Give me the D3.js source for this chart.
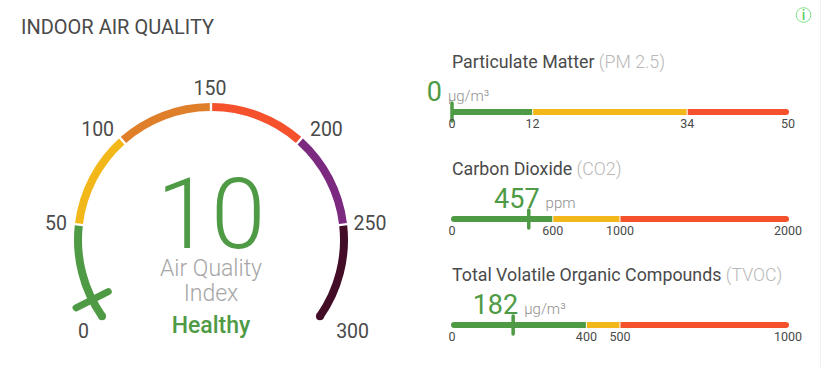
<!DOCTYPE html>
<html><head><meta charset="utf-8">
<script src="https://cdnjs.cloudflare.com/ajax/libs/d3/7.8.5/d3.min.js"></script>
<style>html,body{margin:0;padding:0;background:#fff;overflow:hidden}svg{display:block}text{font-family:Roboto,sans-serif}</style>
</head><body><svg id="c" width="821" height="367"></svg>
<script>
const aqiTicks = [0, 50, 100, 150, 200, 250, 300];
const aqiColors = ["#4f9a45", "#f2b81a", "#e07f2a", "#f4512c", "#7b2a80", "#430d28"];
const aqiValue = 10;
const aqiStatus = "Healthy";

const pmStops = [0, 12, 35, 50];
const pmLabels = ["0", "12", "34", "50"];
const pmValue = 0;
const co2Stops = [0, 600, 1000, 2000];
const co2Labels = ["0", "600", "1000", "2000"];
const co2Value = 457;
const tvocStops = [0, 400, 500, 1000];
const tvocLabels = ["0", "400", "500", "1000"];
const tvocValue = 182;
const barColors = ["#4f9a45", "#f2b81a", "#f4512c"];

const GREEN = "#4f9a45", DARK = "#4a4a4a", GREY = "#a6a6a6";
const svg = d3.select("#c");
svg.append("rect").attr("x",820).attr("y",0).attr("width",1).attr("height",367).attr("fill","#f0f0f0");
svg.append("text").attr("x",21).attr("y",34).attr("font-size",20).attr("fill",DARK).text("INDOOR AIR QUALITY");

// info icon
const info = svg.append("g").attr("transform","translate(803.5,15)");
info.append("circle").attr("r",7.3).attr("fill","none").attr("stroke","#7fe08a").attr("stroke-width",1);
info.append("text").attr("text-anchor","middle").attr("y",5).attr("font-size",14).attr("font-weight",500).attr("fill","#5fcf6c").text("i");

// ---- gauge
const cx = 211, cy = 240, rMid = 133, arcW = 8;
const deg = Math.PI / 180;
const angle = d3.scaleLinear().domain([0, 300]).range([-125 * deg, 125 * deg]);
const gauge = svg.append("g").attr("transform", `translate(${cx},${cy})`);
const arc = d3.arc().innerRadius(rMid - arcW / 2).outerRadius(rMid + arcW / 2);
const pad = 0.5 * deg;
aqiColors.forEach((col, i) => {
  const a0 = angle(aqiTicks[i]), a1 = angle(aqiTicks[i + 1]);
  gauge.append("path").attr("fill", col)
    .attr("d", arc({startAngle: a0 + (i ? pad : 0), endAngle: a1 - (i < 5 ? pad : 0)}));
});
const polar = (a, r) => [r * Math.sin(a), -r * Math.cos(a)];
[[0, 0], [300, 5]].forEach(([v, i]) => {
  const p = polar(angle(v), rMid);
  gauge.append("circle").attr("cx", p[0]).attr("cy", p[1]).attr("r", arcW / 2).attr("fill", aqiColors[i]);
});
const n0 = polar(angle(aqiValue), 115), n1 = polar(angle(aqiValue), 151);
gauge.append("line").attr("x1",n0[0]).attr("y1",n0[1]).attr("x2",n1[0]).attr("y2",n1[1])
  .attr("stroke",GREEN).attr("stroke-width",7).attr("stroke-linecap","round");
const nudge = {0:[1,2],50:[1,2],100:[-9,7],150:[-1,6],200:[11,7],250:[3,2],300:[13,2]};
aqiTicks.forEach(t => {
  const p = polar(angle(t), 157);
  gauge.append("text").attr("text-anchor","middle").attr("font-size",19.5).attr("fill",DARK)
    .attr("x", p[0] + nudge[t][0]).attr("y", p[1] + nudge[t][1] + 6).text(t);
});
const mid = svg.append("g").attr("text-anchor","middle");
mid.append("text").attr("x",cx).attr("y",248).attr("font-size",98).attr("font-weight",300).attr("fill",GREEN).text(aqiValue);
mid.append("text").attr("x",cx).attr("y",276).attr("font-size",23).attr("font-weight",300).attr("fill",GREY).text("Air Quality");
mid.append("text").attr("x",cx).attr("y",301).attr("font-size",23).attr("font-weight",300).attr("fill",GREY).text("Index");
mid.append("text").attr("x",cx).attr("y",333).attr("font-size",23).attr("font-weight",500).attr("fill",GREEN).text(aqiStatus);

// ---- linear meters
const x0 = 452, x1 = 788, capR = 3;
function meter(y, name, abbr, stops, labels, value, unit) {
  const x = d3.scaleLinear().domain([stops[0], stops[3]]).range([x0, x1]);
  const g = svg.append("g");
  const t = g.append("text").attr("x",x0).attr("y",y - 44.5).attr("font-size",17.8).attr("fill",DARK);
  t.append("tspan").text(name + " ");
  t.append("tspan").attr("fill","#b8b8b8").attr("font-weight",300).text(abbr);
  barColors.forEach((col, i) => {
    const a = x(stops[i]) + (i ? 0.5 : capR - 1), b = x(stops[i + 1]) - (i < 2 ? 0.5 : capR - 1);
    g.append("rect").attr("x",a).attr("y",y - 3).attr("width",b - a).attr("height",6).attr("fill",col);
  });
  g.append("circle").attr("cx",x0 + capR - 1).attr("cy",y).attr("r",capR).attr("fill",barColors[0]);
  g.append("circle").attr("cx",x1 - capR + 1).attr("cy",y).attr("r",capR).attr("fill",barColors[2]);
  g.append("line").attr("x1",x(value)).attr("x2",x(value)).attr("y1",y - 9).attr("y2",y + 9)
    .attr("stroke",GREEN).attr("stroke-width",3.5).attr("stroke-linecap","round");
  const v = g.append("text").attr("text-anchor","middle").attr("x",x(value) + 6).attr("y",y - 11);
  v.append("tspan").attr("font-size",27).attr("fill",GREEN).text(value);
  v.append("tspan").attr("dx",6).attr("font-size",15).attr("font-weight",300).attr("fill","#8f8f8f").text(unit);
  stops.forEach((s, i) => {
    g.append("text").attr("text-anchor","middle").attr("x",x(s)).attr("y",y + 16)
      .attr("font-size",12.5).attr("fill",DARK).text(labels[i]);
  });
}
meter(112, "Particulate Matter", "(PM 2.5)", pmStops, pmLabels, pmValue, "µg/m³");
meter(219, "Carbon Dioxide", "(CO2)", co2Stops, co2Labels, co2Value, "ppm");
meter(325, "Total Volatile Organic Compounds", "(TVOC)", tvocStops, tvocLabels, tvocValue, "µg/m³");
</script></body></html>
